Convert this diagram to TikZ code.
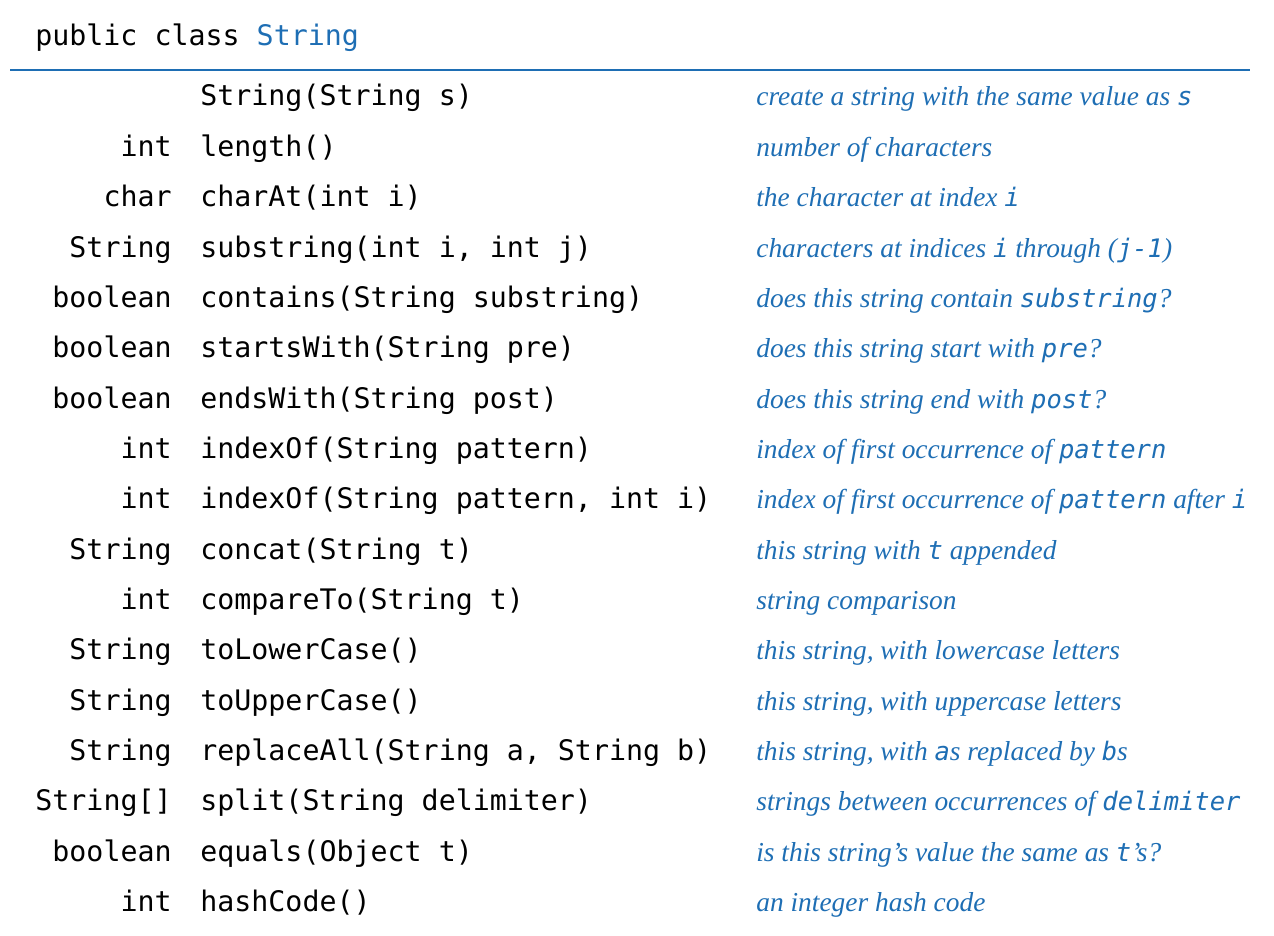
\documentclass[tikz,border=0pt]{standalone}
\usepackage{fontspec}
\setmonofont{DejaVu Sans Mono}
\setmainfont{Liberation Serif}
\definecolor{bk}{RGB}{30,110,180}
\newcommand{\mm}[1]{{\ttfamily\fontsize{14.5}{18}\selectfont #1}}
\begin{document}
\begin{tikzpicture}[x=0.02cm,y=-0.02cm,
  ret/.style={anchor=base east,inner sep=0,font=\ttfamily\fontsize{16.1}{18}\selectfont},
  meth/.style={anchor=base west,inner sep=0,font=\ttfamily\fontsize{16.1}{18}\selectfont},
  desc/.style={anchor=base west,inner sep=0,text=bk,font=\itshape\fontsize{15.6}{20}\selectfont}]
\useasboundingbox (0,0) rectangle (1274,936);
\node[meth] (title) at (35,46) {public class \textcolor{bk}{String}};
\draw[bk,line width=1pt] (10,70) -- (1250,70);
\foreach \r/\t/\m/\d [count=\i from 0] in {
 /{}/{String(String s)}/{create a string with the same value as \mm{s}},
 /int/{length()}/{number of characters},
 /char/{charAt(int i)}/{the character at index \mm{i}},
 /String/{substring(int i, int j)}/{characters at indices \mm{i} through (\mm{j-1})},
 /boolean/{contains(String substring)}/{does this string contain \mm{substring}?},
 /boolean/{startsWith(String pre)}/{does this string start with \mm{pre}?},
 /boolean/{endsWith(String post)}/{does this string end with \mm{post}?},
 /int/{indexOf(String pattern)}/{index of first occurrence of \mm{pattern}},
 /int/{indexOf(String pattern, int i)}/{index of first occurrence of \mm{pattern} after \mm{i}},
 /String/{concat(String t)}/{this string with \mm{t} appended},
 /int/{compareTo(String t)}/{string comparison},
 /String/{toLowerCase()}/{this string, with lowercase letters},
 /String/{toUpperCase()}/{this string, with uppercase letters},
 /String/{replaceAll(String a, String b)}/{this string, with \mm{a}s replaced by \mm{b}s},
 /String[]/{split(String delimiter)}/{strings between occurrences of \mm{delimiter}},
 /boolean/{equals(Object t)}/{is this string's value the same as \mm{t}'s?},
 /int/{hashCode()}/{an integer hash code}}{
  \node[ret] (r\i) at (172,{106+50.35*\i}) {\t};
  \node[meth] (m\i) at (200,{106+50.35*\i}) {\m};
  \node[desc] (d\i) at (756,{106+50.35*\i}) {\d};
}
\end{tikzpicture}
\end{document}
